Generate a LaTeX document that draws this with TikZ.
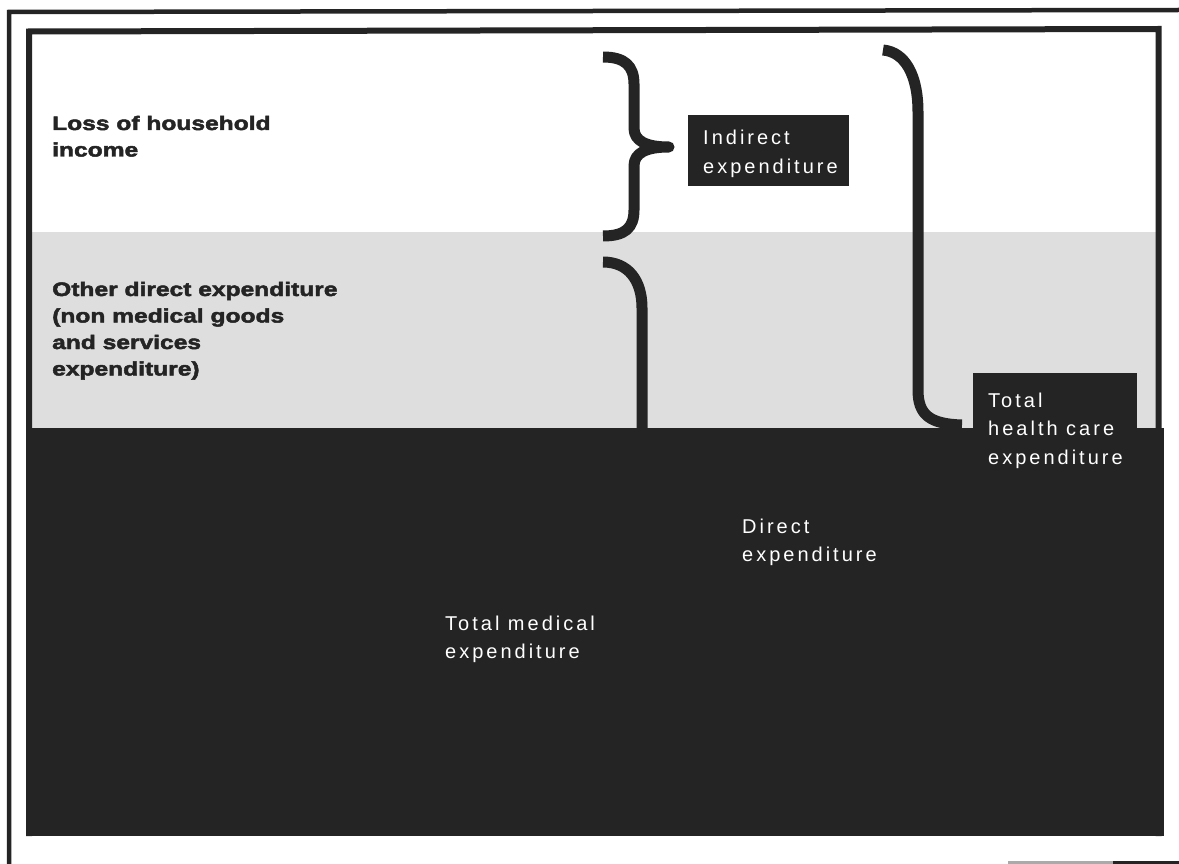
\documentclass[tikz,border=0pt]{standalone}
\usepackage{fontspec}
\setmainfont{Liberation Sans}
\newfontfamily\whitefont[LetterSpace=15]{Liberation Sans}
\newfontfamily\bandfont[FakeStretch=1.26,FakeBold=2.5]{Liberation Sans Bold}
\definecolor{ink}{RGB}{36,36,36}
\definecolor{bandgray}{RGB}{222,222,222}
\definecolor{scangray}{RGB}{170,170,170}
\tikzset{
  brace/.style={draw=ink, line width=11pt, line join=round},
  frameline/.style={draw=ink, line width=5pt},
  % nodes are placed at the baseline of their last line
  whitelabel/.style={anchor=base west, inner sep=0pt, align=left, text=white,
    font=\whitefont\fontsize{20}{28.5}\selectfont},
  bandlabel/.style={anchor=base west, inner sep=0pt, align=left, text=ink,
    font=\bandfont\fontsize{19.5}{26.5}\selectfont},
  darkbox/.style={fill=ink, draw=none}
}
\begin{document}
\begin{tikzpicture}[x=1pt, y=-1pt]
\useasboundingbox (0,0) rectangle (1179,864);
\fill[white] (0,0) rectangle (1179,864);

% three horizontal layers
\fill[bandgray] (29,232) rectangle (1158,428);
\fill[ink] (26,428) rectangle (1164,836);

% frames
\draw[draw=ink, line width=4.5pt] (9,864) -- (9,12) -- (1179,10);
\draw[frameline, line width=6pt] (29,836) -- (29,31.5) -- (1158.5,29) -- (1158.5,836);
\draw[draw=scangray, line width=3pt] (1008,862.5) -- (1113,862.5);
\draw[draw=ink, line width=3pt] (1113,862.5) -- (1179,862.5);

% label boxes
\fill[darkbox] (688,115) rectangle (849,186);
\fill[darkbox] (973,373) rectangle (1137,430);

% braces
\draw[brace] (603,57) .. controls (625,57) and (634,66) .. (634,84)
  -- (634,128) .. controls (634,141) and (646,147) .. (669,147)
  .. controls (646,147) and (634,153) .. (634,166)
  -- (634,210) .. controls (634,228) and (625,236) .. (603,236);
\draw[brace] (603,262) .. controls (628,262) and (642,280) .. (642,308) -- (642,430);
\draw[brace] (883,50) .. controls (905,52) and (918,75) .. (918,112)
  -- (918,390) .. controls (918,415) and (930,424) .. (962,425);

% texts
\node[bandlabel] (loss) at (52,156.5) {Loss of household\\income};
\node[bandlabel] (other) at (52,375.5) {Other direct expenditure\\(non medical goods\\and services\\expenditure)};
\node[whitelabel] (indirect) at (703,173.5) {Indirect\\expenditure};
\node[whitelabel] (healthcare) at (988,464) {Total\\health care\\expenditure};
\node[whitelabel] (direct) at (742,561.5) {Direct\\expenditure};
\node[whitelabel] (medical) at (445,658.5) {Total medical\\expenditure};
\end{tikzpicture}
\end{document}
